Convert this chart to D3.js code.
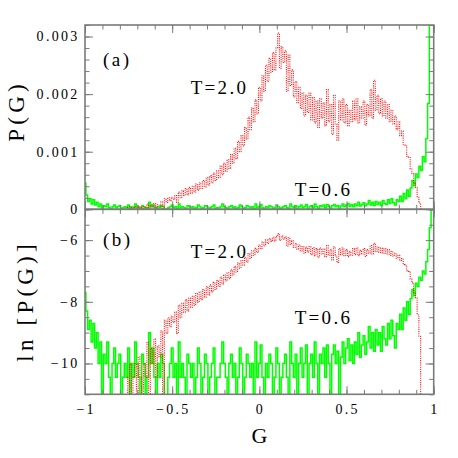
<!DOCTYPE html>
<html lang="en">
<head>
<meta charset="UTF-8" />
<title>P(G) at T=2.0 and T=0.6</title>
<style>
  body { margin: 0; background: #ffffff; }
  svg text { font-family: "Liberation Serif", "Times New Roman", serif; fill: #000; }
</style>
</head>
<body>
<svg id="chart" width="458" height="458"></svg>
<script src="https://d3js.org/d3.v7.min.js"></script>
<script>
// T=2.0 : P(G) in units of 1e-3, bins of 0.01 starting at G=-0.76
const redStart = -0.76;
const redP = [
  0.029, 0, 0.045, 0, 0.029, 0.045, 0, 0.056, 0.029, 0,
  0.045, 0.029, 0.091, 0, 0.074, 0.045, 0.1, 0.029, 0.08, 0.056,
  0.13, 0, 0.184, 0.12, 0.2, 0.15, 0.21, 0.17, 0.24, 0.12,
  0.30, 0.20, 0.32, 0.24, 0.36, 0.25, 0.38, 0.28, 0.40, 0.30,
  0.44, 0.33, 0.46, 0.36, 0.50, 0.39, 0.55, 0.42, 0.58, 0.46,
  0.63, 0.50, 0.67, 0.55, 0.75, 0.60, 0.80, 0.66, 0.86, 0.71,
  0.95, 0.80, 1.06, 0.88, 1.18, 1.00, 1.28, 1.10, 1.42, 1.22,
  1.60, 1.38, 1.76, 1.52, 1.90, 1.66, 2.12, 1.88, 2.32, 2.05,
  2.50, 2.22, 2.62, 2.38, 2.72, 2.42, 2.80, 3.06, 2.45, 2.82,
  2.55, 2.75, 2.05, 2.68, 2.15, 2.42, 1.95, 2.22, 1.85, 2.12,
  1.75, 2.02, 1.62, 1.98, 1.68, 2.02, 1.55, 1.94, 1.50, 1.88,
  1.42, 1.92, 1.58, 1.85, 1.45, 2.08, 1.52, 1.82, 1.30, 1.98,
  1.48, 1.20, 1.88, 1.55, 1.92, 1.50, 1.82, 1.45, 1.72, 1.52,
  1.88, 1.55, 1.92, 1.50, 1.78, 1.58, 1.88, 1.46, 1.82, 1.62,
  2.08, 1.58, 2.24, 1.72, 1.98, 1.66, 1.92, 1.62, 1.88, 1.58,
  1.82, 1.52, 1.72, 1.48, 1.62, 1.38, 1.52, 1.28, 1.36, 1.12,
  1.10, 0.92, 0.90, 0.70, 0.62, 0.45, 0.38, 0.22, 0.11, 0
];

// T=0.6 : ln P(G), bins of 0.01 starting at G=-1 (null = empty bin)
const greenStart = -1.0;
const greenLnP = [
  -7.7, -8.3, -8.9, -8.6, -9.3, -8.7, -9.5, -9.0, -10.0, -9.3,
  null, -9.7, -10.0, -9.3, -10.45, null, -10.0, -9.5, -10.45, -10.0,
  -9.7, null, -10.45, -10.0, -10.45, -9.5, null, -10.0, -10.45, -9.3,
  -10.0, -10.45, null, -9.7, -10.0, null, -10.45, -9.0, -10.0, -9.5,
  -10.45, null, -10.0, -10.45, -9.7, -10.0, null, null, -10.45, -10.0,
  -9.5, -10.45, -10.0, null, -9.3, -10.45, -10.0, -10.45, null, -9.7,
  -10.0, -10.45, -10.0, null, -10.45, -9.5, -10.0, null, -10.45, -9.7,
  -10.0, null, -10.45, -10.0, -9.5, null, -10.45, -10.45, -10.0, -9.3,
  -10.0, -10.45, null, -10.0, -9.7, -10.45, -10.0, null, -10.45, -9.5,
  -10.0, null, -10.45, -9.7, -10.0, -10.45, -10.0, null, -9.3, -10.45,
  -10.0, -9.4, -10.45, null, -10.0, -10.45, -9.7, -10.0, null, -10.45,
  -9.5, -10.0, null, -10.45, -10.0, -9.7, -10.45, null, -9.3, -10.0,
  -10.45, -9.7, null, -10.0, -9.5, -10.45, -10.0, -9.4, null, -10.0,
  -9.7, -10.45, -9.3, -10.0, null, -9.7, -10.0, -9.5, -10.45, -9.4,
  -10.0, null, -9.7, -9.4, -10.0, -9.6, null, -9.8, -9.3, -10.0,
  -9.5, -9.2, -9.9, -9.4, -10.0, -9.3, -9.7, -9.0, -9.8, -9.4,
  -9.1, -9.7, -9.3, -8.8, -9.5, -9.0, -9.6, -8.9, -9.4, -9.0,
  -9.6, -8.8, -9.2, -9.4, -8.7, -9.2, -8.6, -9.1, -9.5, -8.7,
  -8.9, -8.4, -8.9, -8.2, -8.6, -8.0, -8.4, -7.9, -7.6, -7.8,
  -7.4, -7.5, -7.2, -7.3, -7.0, -7.1, -6.7, -6.3, -5.6, -5.0,
  -4.3
];

const xTicks = [-1, -0.5, 0, 0.5, 1];
const xTickLabels = ["\u22121", "\u22120.5", "0", "0.5", "1"];
const topTicks = [0, 0.001, 0.002, 0.003];
const topTickLabels = ["0", "0.001", "0.002", "0.003"];
const botTicks = [-10, -8, -6];
const botTickLabels = ["\u221210", "\u22128", "\u22126"];

const svg = d3.select("#chart");
const frameColor = "#7a7a7a";

const x = d3.scaleLinear().domain([-1, 1]).range([85, 433.7]);
const yTop = d3.scaleLinear().domain([0, 0.0032]).range([209.3, 25]);
const yBot = d3.scaleLinear().domain([-11, -5]).range([394.3, 209.3]);

const red = redP.map((v, i) => ({ g: redStart + i * 0.01, p: v * 1e-3 }));
const green = greenLnP.map((v, i) => ({
  g: greenStart + i * 0.01,
  p: v === null ? 0 : Math.exp(v),
}));
const lnOf = (p) => (p > 0 ? Math.log(p) : -12);

function range(a, b, step) {
  const n = Math.round((b - a) / step);
  return d3.range(n + 1).map((i) => a + i * step);
}
const xMinor = range(-1, 1, 0.1);

function drawFrame(y, major, minor) {
  const [yb, yt] = y.range();
  const g = svg.append("g");
  const put = (axis, tx, ty) =>
    g.append("g")
      .attr("transform", `translate(${tx},${ty})`)
      .call(axis.tickFormat("").tickSizeOuter(0))
      .call((s) => s.select(".domain").remove())
      .call((s) => s.selectAll("line").attr("stroke", frameColor).attr("stroke-width", 1));
  [[xTicks, 8], [xMinor, 4.5]].forEach(([t, len]) => {
    put(d3.axisTop(x).tickValues(t).tickSize(-len), 0, yt);
    put(d3.axisBottom(x).tickValues(t).tickSize(-len), 0, yb);
  });
  [[major, 8], [minor, 4.5]].forEach(([t, len]) => {
    put(d3.axisLeft(y).tickValues(t).tickSize(-len), x(-1), 0);
    put(d3.axisRight(y).tickValues(t).tickSize(-len), x(1), 0);
  });
  g.append("rect")
    .attr("x", x(-1)).attr("y", yt)
    .attr("width", x(1) - x(-1)).attr("height", yb - yt)
    .attr("fill", "none").attr("stroke", frameColor).attr("stroke-width", 1.6);
}

function clipFor(id, y) {
  const [yb, yt] = y.range();
  svg.append("clipPath").attr("id", id)
    .append("rect")
    .attr("x", x(-1)).attr("y", yt)
    .attr("width", x(1) - x(-1)).attr("height", yb - yt);
  return `url(#${id})`;
}

function drawSeries(clip, yOf) {
  const line = d3.line().curve(d3.curveStep).x((d) => x(d.g)).y(yOf);
  const g = svg.append("g").attr("clip-path", clip);
  g.append("path").datum(green)
    .attr("d", line)
    .attr("fill", "none").attr("stroke", "#00ff00").attr("stroke-width", 1.5);
  g.append("path").datum(red)
    .attr("d", line)
    .attr("fill", "none").attr("stroke", "#ff1a1a").attr("stroke-width", 1.1)
    .attr("stroke-dasharray", "1.1,1.1");
}

// panel (a): linear P(G)
drawSeries(clipFor("clipTop", yTop), (d) => yTop(d.p));
// panel (b): ln P(G)
drawSeries(clipFor("clipBot", yBot), (d) => yBot(lnOf(d.p)));

drawFrame(yTop, topTicks, range(0, 0.0032, 0.0002));
drawFrame(yBot, botTicks, range(-11, -5, 0.5));

function text(str, px, py, size, spacing, anchor) {
  let dx = 0;
  if (anchor === "end") dx = spacing;
  if (anchor === "middle") dx = spacing / 2;
  return svg.append("text")
    .attr("x", px + dx).attr("y", py)
    .attr("font-size", size)
    .attr("letter-spacing", spacing)
    .attr("text-anchor", anchor || "start")
    .text(str);
}

// tick labels
const tickSize = 14, tickSpace = 2.3;
topTicks.forEach((t, i) => text(topTickLabels[i], 77.3, yTop(t) + 4.8, tickSize, tickSpace, "end"));
botTicks.forEach((t, i) => text(botTickLabels[i], 77.3, yBot(t) + 4.8, tickSize, tickSpace, "end"));
xTicks.forEach((t, i) => text(xTickLabels[i], x(t), 414, tickSize, tickSpace, "middle"));

// axis titles
text("G", x(0), 443, 22, 0, "middle");
text("P(G)", 0, 0, 23, 4.2, "middle").attr("transform", "translate(23.5,113) rotate(-90)");
text("ln [P(G)]", 0, 0, 23, 4.2, "middle").attr("transform", "translate(33,303) rotate(-90)");

// panel annotations
text("(a)", 103, 66, 19, 2.5);
text("T=2.0", 190.7, 94, 19, 2.3);
text("T=0.6", 294.7, 196, 19, 2.3);
text("(b)", 103, 246, 19, 2.5);
text("T=2.0", 190.7, 258, 19, 2.3);
text("T=0.6", 294.7, 324.3, 19, 2.3);
</script>
</body>
</html>
